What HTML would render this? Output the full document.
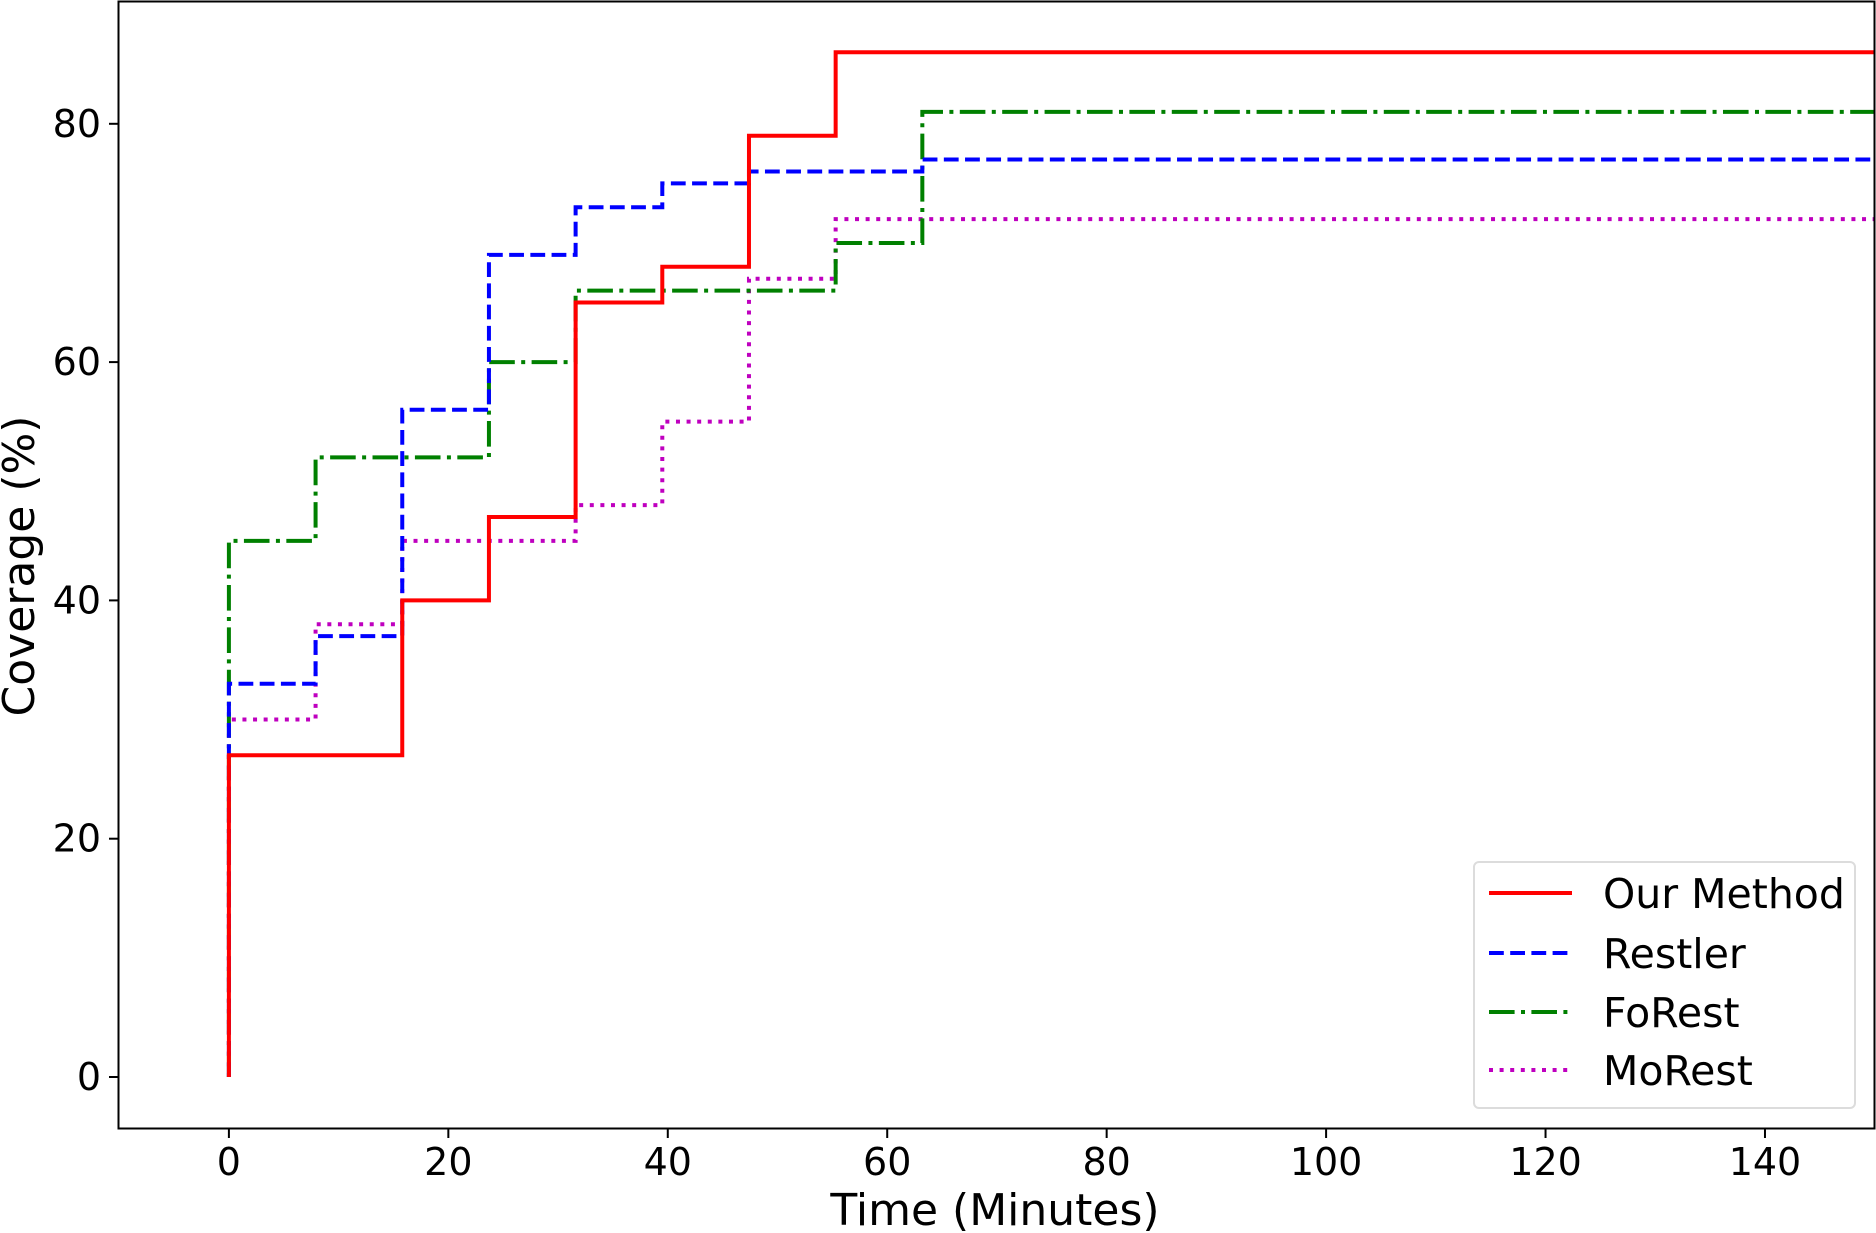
<!DOCTYPE html>
<html><head><meta charset="utf-8"><style>
html,body{margin:0;padding:0;background:#fff}
svg{display:block;font-family:"DejaVu Sans","Liberation Sans",sans-serif}
</style></head><body>
<svg id="chart" width="1876" height="1233" viewBox="0 0 1876 1233" xmlns="http://www.w3.org/2000/svg">
<rect x="118.5" y="1" width="1756" height="1127" fill="#fff" stroke="none"/>
<g id="series"></g>
<rect x="118.5" y="1.5" width="1756" height="1127" fill="none" stroke="#000" stroke-width="2"/>
<g id="xticks"></g>
<g id="yticks"></g>
<text x="995" y="1225" font-size="44" text-anchor="middle">Time (Minutes)</text>
<text transform="translate(34,566) rotate(-90)" font-size="44" text-anchor="middle">Coverage (%)</text>
<g id="legend"></g>
</svg>
<script>
const seriesNames = ["Our Method","Restler","FoRest","MoRest"];
const ourX = [0,0,15.8,23.7,31.6,39.5,47.4,55.3];
const ourY = [0,27,40,47,65,68,79,86];
const restlerX = [0,0,7.9,15.8,23.7,31.6,39.5,47.4,63.2];
const restlerY = [0,33,37,56,69,73,75,76,77];
const forestX = [0,0,7.9,23.7,31.6,55.3,63.2];
const forestY = [0,45,52,60,66,70,81];
const morestX = [0,0,7.9,15.8,31.6,39.5,47.4,55.3];
const morestY = [0,30,38,45,48,55,67,72];
const xTicks = [0,20,40,60,80,100,120,140];
const yTicks = [0,20,40,60,80];
const xEnd = 150;

const NS="http://www.w3.org/2000/svg";
function sx(v){return 228.9+(v)*10.972;}
function sy(v){return 1077-(v)*11.915;}
const styles=[
 {c:"#ff0000",d:null},
 {c:"#0000ff",d:"14.8,6.4"},
 {c:"#008000",d:"25.6,6.4,4,6.4"},
 {c:"#bf00bf",d:"4,6.6"}
];
const xs=[ourX,restlerX,forestX,morestX], ys=[ourY,restlerY,forestY,morestY];
const g=document.getElementById('series');
const names=["line-our-method","line-restler","line-forest","line-morest"];
for(let s=3;s>=0;s--){
  let d="";
  const X=xs[s],Y=ys[s];
  for(let i=0;i<X.length;i++){
    if(i===0){d+="M"+sx(X[i])+","+sy(Y[i]);}
    else{d+=" H"+sx(X[i])+" V"+sy(Y[i]);}
  }
  d+=" H"+sx(xEnd);
  const p=document.createElementNS(NS,"path");
  
  
  p.setAttribute("d",d);p.setAttribute("fill","none");
  p.setAttribute("stroke",styles[s].c);p.setAttribute("stroke-width","4");
  if(styles[s].d)p.setAttribute("stroke-dasharray",styles[s].d);
  g.appendChild(p);
}
const gx=document.getElementById('xticks');
xTicks.forEach(t=>{
  const l=document.createElementNS(NS,"line");
  
  
  l.setAttribute("x1",sx(t));l.setAttribute("x2",sx(t));l.setAttribute("y1",1128);l.setAttribute("y2",1138);
  l.setAttribute("stroke","#000");l.setAttribute("stroke-width","2");gx.appendChild(l);
  const tx=document.createElementNS(NS,"text");
  
  
  tx.setAttribute("x",sx(t));tx.setAttribute("y",1175);tx.setAttribute("font-size","38");tx.setAttribute("text-anchor","middle");
  tx.textContent=t;gx.appendChild(tx);
});
const gy=document.getElementById('yticks');
yTicks.forEach(t=>{
  const l=document.createElementNS(NS,"line");
  
  
  l.setAttribute("x1",109);l.setAttribute("x2",118.5);l.setAttribute("y1",sy(t));l.setAttribute("y2",sy(t));
  l.setAttribute("stroke","#000");l.setAttribute("stroke-width","2");gy.appendChild(l);
  const tx=document.createElementNS(NS,"text");
  
  
  tx.setAttribute("x",101);tx.setAttribute("y",sy(t)+13);tx.setAttribute("font-size","38");tx.setAttribute("text-anchor","end");
  tx.textContent=t;gy.appendChild(tx);
});
const lg=document.getElementById('legend');
const box=document.createElementNS(NS,"rect");


box.setAttribute("x",1474);box.setAttribute("y",862);box.setAttribute("width",381);box.setAttribute("height",246);
box.setAttribute("rx",5);box.setAttribute("fill","#fff");box.setAttribute("fill-opacity","0.8");box.setAttribute("stroke","#dcdcdc");box.setAttribute("stroke-width","2");
lg.appendChild(box);
const rowY=[893,953,1012,1070];
seriesNames.forEach((n,i)=>{
  const l=document.createElementNS(NS,"line");
  
  
  l.setAttribute("x1",1489);l.setAttribute("x2",1572);l.setAttribute("y1",rowY[i]);l.setAttribute("y2",rowY[i]);
  l.setAttribute("stroke",styles[i].c);l.setAttribute("stroke-width","4");
  if(styles[i].d)l.setAttribute("stroke-dasharray",styles[i].d);
  lg.appendChild(l);
  const tx=document.createElementNS(NS,"text");
  
  
  tx.setAttribute("x",1603);tx.setAttribute("y",rowY[i]+15);tx.setAttribute("font-size","41");
  tx.textContent=n;lg.appendChild(tx);
});
</script>
</body></html>
